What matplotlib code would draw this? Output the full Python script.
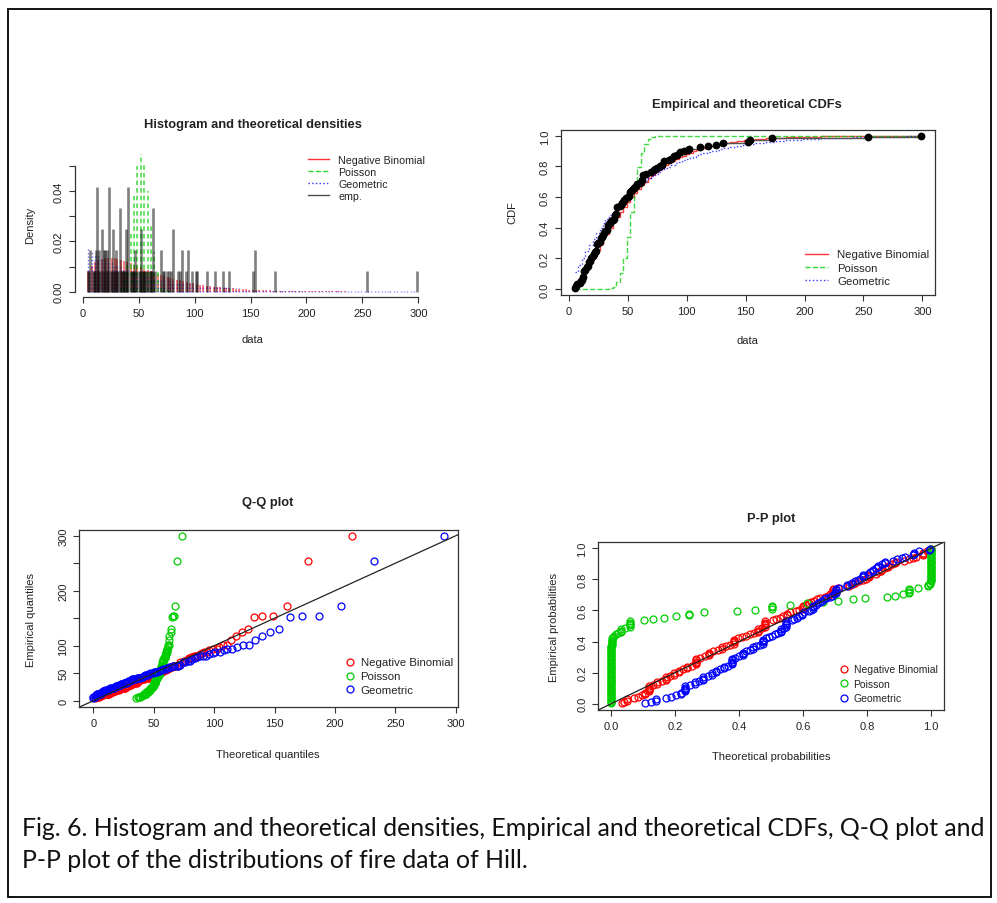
import math
import numpy as np
import matplotlib
matplotlib.use('Agg')
import matplotlib.pyplot as plt
from matplotlib.lines import Line2D
from matplotlib.patches import Rectangle

# ---------------- data ----------------
fire_data = [5, 6, 7, 7, 9, 10,
             11, 12, 12, 13, 13, 13, 13, 13, 14, 15, 15, 16, 17, 17, 17, 18, 19, 19,
             20, 20, 21, 22, 22, 23, 24, 24, 24, 24, 24, 25,
             26, 27, 27, 27, 28, 29, 30, 30, 31, 32, 33, 33, 33, 33, 34, 35, 36, 37,
             38, 39, 39, 39, 40, 41, 41, 41, 41, 41, 43, 44, 45, 46, 47, 47, 48, 50,
             51, 52, 52, 52, 53, 54, 55, 56, 57, 58, 60, 61, 62, 63, 63, 63, 63, 65,
             70, 70, 72, 73, 75, 77, 79, 81, 81, 81, 85, 87, 89, 89, 92, 94, 94, 98,
             101, 102, 111, 118, 125, 131, 152, 154, 154, 172, 254, 299]
dist_names = ["Negative Binomial", "Poisson", "Geometric"]
nb_size = 1.8
nb_mu = 52.6
pois_lambda = 52.6
geom_prob = 0.0187
n_grid_points = 101
dist_colors = ['#FF0000', '#00CD00', '#0000FF']
dist_styles = ['-', '--', ':']
caption_lines = ["Fig. 6. Histogram and theoretical densities, Empirical and theoretical CDFs, Q-Q plot and",
                 "P-P plot of the distributions of fire data of Hill."]

# ---------------- distributions ----------------
K = np.arange(0, 3000)
def nb_pmf(k):
    return np.array([math.exp(math.lgamma(x + nb_size) - math.lgamma(nb_size) - math.lgamma(x + 1)
                              + nb_size * math.log(nb_size / (nb_size + nb_mu))
                              + x * math.log(nb_mu / (nb_size + nb_mu))) for x in k])
def pois_pmf(k):
    return np.array([math.exp(-pois_lambda + x * math.log(pois_lambda) - math.lgamma(x + 1)) for x in k])
def geom_pmf(k):
    return geom_prob * (1 - geom_prob) ** np.asarray(k, dtype=float)

pmfs = [nb_pmf(K), pois_pmf(K), geom_pmf(K)]
cdfs = [np.cumsum(p) for p in pmfs]

data = np.sort(np.array(fire_data))
n = len(data)
uvals, ucounts = np.unique(data, return_counts=True)
ppts = (np.arange(1, n + 1) - 0.5) / n
quants = [np.searchsorted(c, ppts - 1e-10) for c in cdfs]

# ---------------- figure ----------------
W, H = 997, 904
plt.rcParams['font.family'] = ['Liberation Sans', 'DejaVu Sans']
fig = plt.figure(figsize=(W / 100, H / 100), dpi=100)
fig.patch.set_facecolor('white')

def ax_px(l, t, r, b):
    return fig.add_axes([l / W, 1 - b / H, (r - l) / W, (b - t) / H])

def ftext(x, y, s, **kw):
    return fig.text(x / W, 1 - y / H, s, ha='center', va='center', **kw)

AXC = '#333333'
TXC = '#222222'

def style(ax, box=True):
    for s in ax.spines.values():
        s.set_linewidth(0.9)
        s.set_color(AXC)
    if not box:
        ax.spines['top'].set_visible(False)
        ax.spines['right'].set_visible(False)
    ax.tick_params(direction='out', length=4, width=0.8, color=AXC, labelsize=8,
                   labelcolor=TXC, pad=4)
    ax.tick_params(axis='y', labelrotation=90)
    plt.setp(ax.get_yticklabels(), va='center')

xmin, xmax = data.min(), data.max()
xr = xmax - xmin
xlim_data = (xmin - 0.04 * xr, xmax + 0.04 * xr)
grid = np.unique(np.round(np.linspace(xmin, xmax, n_grid_points))).astype(int)

# ---- Panel 1: histogram and theoretical densities ----
ax1 = ax_px(75, 149, 430.5, 298.2)
ymax1 = max(max(p[grid].max() for p in pmfs), (ucounts / n).max())
for p, c, ls in zip(pmfs, dist_colors, dist_styles):
    if ls == '-':
        ax1.vlines(grid, 0, p[grid], colors=c, lw=1.3, alpha=0.55)
    elif ls == '--':
        ax1.vlines(grid, 0, p[grid], colors=c, lw=1.1, alpha=0.75, linestyles=(0, (3, 2)))
    else:
        ax1.vlines(grid, 0, p[grid], colors=c, lw=1.0, alpha=0.55, linestyles=(0, (1, 1.5)))
ax1.vlines(uvals, 0, ucounts / n, colors='black', lw=1.9, alpha=0.5)
ax1.set_xlim(*xlim_data)
ax1.set_ylim(-0.04 * ymax1, 1.04 * ymax1)
ax1.set_xticks(np.arange(0, 301, 50))
ax1.set_yticks(np.arange(0, 0.051, 0.01))
ax1.set_yticklabels(['0.00', '', '0.02', '', '0.04', ''])
ax1.spines['left'].set_bounds(0, 0.05)
ax1.spines['bottom'].set_bounds(0, 300)
style(ax1, box=False)
h1 = [Line2D([], [], color=c, ls=ls, lw=1, alpha=0.8) for c, ls in zip(dist_colors, dist_styles)]
h1.append(Line2D([], [], color='black', lw=1, alpha=0.7))
ax1.legend(h1, dist_names + ['emp.'], loc='upper left', bbox_to_anchor=(308 / W, 1 - 155.5 / H),
           bbox_transform=fig.transFigure, frameon=False, fontsize=7.7, borderpad=0,
           borderaxespad=0, handlelength=2.0, handletextpad=0.85, labelspacing=0.2,
           labelcolor=TXC)
ftext(253, 125, "Histogram and theoretical densities", fontsize=9.3, fontweight='bold', color=TXC)
ftext(252, 340, "data", fontsize=8, color=TXC)
ftext(30, 225, "Density", fontsize=8, color=TXC, rotation=90)

# ---- Panel 2: CDFs ----
ax2 = ax_px(561, 130.7, 935, 296)
ecdf_vals = np.cumsum(ucounts) / n
for cd, c, ls in zip(cdfs, dist_colors, dist_styles):
    ax2.step(grid, cd[grid], where='post', color=c, ls=ls, lw=1.0, alpha=0.75)
ax2.step(uvals, ecdf_vals, where='post', color='#555555', lw=1.0)
ax2.plot(uvals, ecdf_vals, 'o', color='black', ms=4.6)
ax2.set_xlim(*xlim_data)
ax2.set_ylim(-0.04, 1.04)
ax2.set_xticks(np.arange(0, 301, 50))
ax2.set_yticks(np.arange(0, 1.01, 0.2))
ax2.set_yticklabels(['0.0', '0.2', '0.4', '0.6', '0.8', '1.0'])
style(ax2)
h2 = [Line2D([], [], color=c, ls=ls, lw=1, alpha=0.8) for c, ls in zip(dist_colors, dist_styles)]
ax2.legend(h2, dist_names, loc='upper left', bbox_to_anchor=(805 / W, 1 - 250.5 / H),
           bbox_transform=fig.transFigure, frameon=False, fontsize=8.2, borderpad=0,
           borderaxespad=0, handlelength=2.0, handletextpad=0.8, labelspacing=0.3,
           labelcolor=TXC)
ftext(747, 105, "Empirical and theoretical CDFs", fontsize=9.3, fontweight='bold', color=TXC)
ftext(747, 341, "data", fontsize=8, color=TXC)
ftext(512, 213, "CDF", fontsize=8, color=TXC, rotation=90)

# ---- Panel 3: Q-Q plot ----
ax3 = ax_px(79.3, 530.7, 457.7, 708.3)
for q, c in zip(quants, dist_colors):
    ax3.plot(q, data, 'o', mfc='none', mec=c, ms=5, mew=0.9)
allq = np.concatenate(quants)
qr = allq.max() - allq.min()
ax3.set_xlim(allq.min() - 0.04 * qr, allq.max() + 0.04 * qr)
lo = min(allq.min(), data.min()); hi = max(allq.max(), data.max())
ax3.set_ylim(lo - 0.04 * (hi - lo), hi + 0.04 * (hi - lo))
ax3.plot([-50, 400], [-50, 400], color='#222222', lw=0.9)
ax3.set_xticks(np.arange(0, 301, 50))
ax3.set_yticks(np.arange(0, 301, 50))
ax3.set_yticklabels(['0', '50', '100', '', '200', '', '300'])
style(ax3)
h3 = [Line2D([], [], ls='none', marker='o', mfc='none', mec=c, ms=5, mew=0.9) for c in dist_colors]
ax3.legend(h3, dist_names, loc='upper left', bbox_to_anchor=(344 / W, 1 - 658.5 / H),
           bbox_transform=fig.transFigure, frameon=False, fontsize=8.2, borderpad=0,
           borderaxespad=0, handlelength=1.0, handletextpad=0.45, labelspacing=0.35,
           labelcolor=TXC)
ftext(268, 503, "Q-Q plot", fontsize=9.3, fontweight='bold', color=TXC)
ftext(268, 755, "Theoretical quantiles", fontsize=8, color=TXC)
ftext(31, 620, "Empirical quantiles", fontsize=8, color=TXC, rotation=90)

# ---- Panel 4: P-P plot ----
ax4 = ax_px(598.3, 543, 944, 711)
for cd, c in zip(cdfs, dist_colors):
    ax4.plot(cd[data], ppts, 'o', mfc='none', mec=c, ms=5, mew=0.9)
ax4.plot([-1, 2], [-1, 2], color='#222222', lw=0.9)
ax4.set_xlim(-0.04, 1.04)
ax4.set_ylim(-0.04, 1.04)
ax4.set_xticks(np.arange(0, 1.01, 0.2))
ax4.set_xticklabels(['0.0', '0.2', '0.4', '0.6', '0.8', '1.0'])
ax4.set_yticks(np.arange(0, 1.01, 0.2))
ax4.set_yticklabels(['0.0', '0.2', '0.4', '0.6', '0.8', '1.0'])
style(ax4)
h4 = [Line2D([], [], ls='none', marker='o', mfc='none', mec=c, ms=5, mew=0.9) for c in dist_colors]
ax4.legend(h4, dist_names, loc='upper left', bbox_to_anchor=(839 / W, 1 - 665.5 / H),
           bbox_transform=fig.transFigure, frameon=False, fontsize=7.5, borderpad=0,
           borderaxespad=0, handlelength=1.0, handletextpad=0.4, labelspacing=0.42,
           labelcolor=TXC)
ftext(771, 519, "P-P plot", fontsize=9.3, fontweight='bold', color=TXC)
ftext(771, 757, "Theoretical probabilities", fontsize=8, color=TXC)
ftext(554, 628, "Empirical probabilities", fontsize=8, color=TXC, rotation=90)

# ---- caption and frame ----
t1 = fig.text(22 / W, 1 - 836 / H, caption_lines[0], fontsize=16, family=['Lato', 'DejaVu Sans'],
              ha='left', va='baseline', color='#111111')
fig.canvas.draw()
wpx = t1.get_window_extent().width
fs = 16 * 968 / wpx
t1.set_fontsize(fs)
fig.text(22 / W, 1 - 868 / H, caption_lines[1], fontsize=fs, family=['Lato', 'DejaVu Sans'],
         ha='left', va='baseline', color='#111111')
fig.patches.append(Rectangle((8 / W, 1 - 898 / H), (991 - 8) / W, (898 - 10) / H,
                             transform=fig.transFigure, fill=False, lw=1.3, ec='black'))

fig.savefig('out.png', dpi=100, facecolor='white')
